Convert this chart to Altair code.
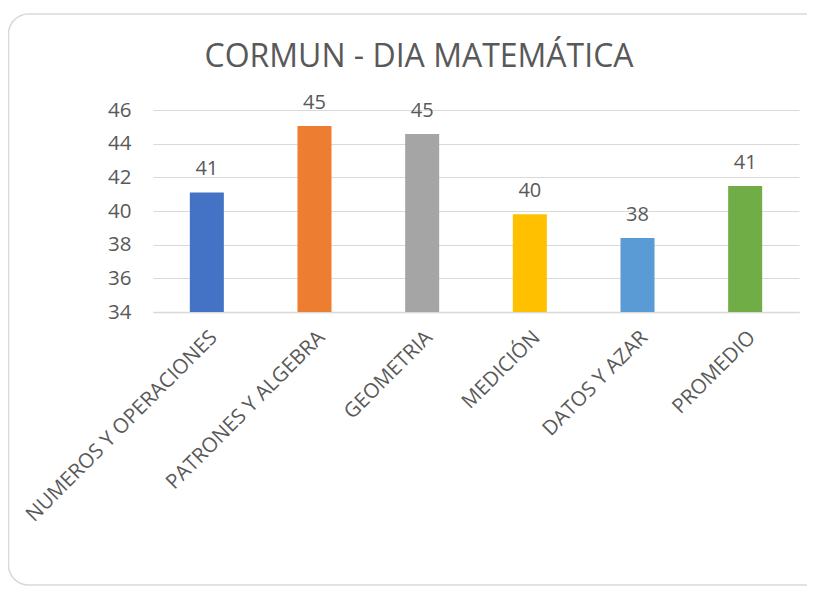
import altair as alt
import pandas as pd

categories = ["NUMEROS Y OPERACIONES", "PATRONES Y ALGEBRA", "GEOMETRIA",
              "MEDICIÓN", "DATOS Y AZAR", "PROMEDIO"]
values = [41.1, 45.05, 44.58, 39.8, 38.39, 41.48]
colors = ["#4472C4", "#ED7D31", "#A5A5A5", "#FFC000", "#5B9BD5", "#70AD47"]
y_ticks = [34, 36, 38, 40, 42, 44, 46]
y_base = 34
title_text = "CORMUN - DIA MATEMÁTICA"

FONT = "Open Sans"
TXT = "#595959"
GRID = "#D9D9D9"

df = pd.DataFrame({"cat": categories, "val": values})

W, H = 646, 202
PL, PT, PR, PB = 145, 102, 8, 274

x_enc = alt.X("cat:N", sort=None,
              scale=alt.Scale(paddingInner=0.684, paddingOuter=0.342),
              axis=alt.Axis(title=None, labelAngle=-45, labelAlign="right",
                            labelBaseline="top", labelPadding=15, labelLimit=500,
                            labelFont=FONT, labelFontSize=20.5, labelColor=TXT,
                            ticks=False, domainColor=GRID, domainWidth=1.5,
                            grid=False))
y_enc = alt.Y("val:Q", scale=alt.Scale(domain=[34, 46], zero=False, nice=False),
              axis=alt.Axis(title=None, values=y_ticks, labelFont=FONT,
                            labelFontSize=20.5, labelColor=TXT, labelPadding=22,
                            labelOverlap=False, ticks=False, domain=False,
                            gridColor=GRID, gridWidth=1.2))

bars = alt.Chart(df).mark_bar().encode(
    x=x_enc, y=y_enc, y2=alt.datum(y_base),
    color=alt.Color("cat:N", sort=None,
                    scale=alt.Scale(domain=categories, range=colors),
                    legend=None),
)

labels = alt.Chart(df).mark_text(font=FONT, fontSize=20, color=TXT,
                                 baseline="alphabetic", dy=-17).encode(
    x=x_enc, y=y_enc,
    text=alt.Text("val:Q", format=".0f"),
)

title = alt.Chart(pd.DataFrame({"t": [title_text]})).mark_text(
    font=FONT, fontSize=32, color=TXT, baseline="alphabetic", align="center"
).encode(x=alt.value(266), y=alt.value(-43), text="t:N")

border = alt.Chart(pd.DataFrame({"a": [0]})).mark_rect(
    filled=False, stroke=GRID, strokeWidth=1.5, cornerRadius=20
).encode(x=alt.value(-144.5), x2=alt.value(672), y=alt.value(-96),
         y2=alt.value(475))

chart = alt.layer(border, bars, labels, title).properties(
    width=W, height=H,
    autosize=alt.AutoSizeParams(type="none"),
    padding={"left": PL, "top": PT, "right": PR, "bottom": PB},
).configure(background="white").configure_view(stroke=None)

chart.save("out.html", embed_options={"renderer": "svg", "actions": False})
